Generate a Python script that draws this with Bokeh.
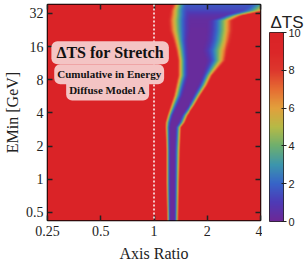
import numpy as np
from bokeh.plotting import figure
from bokeh.layouts import row
from bokeh.models import (LinearColorMapper, FixedTicker, LogAxis, Span, Label, Range1d)
from bokeh.embed import file_html
from bokeh.resources import INLINE

# ---------------- data ----------------
x_ticks = [0.25, 0.5, 1, 2, 4]
x_tick_labels = ["0.25", "0.5", "1", "2", "4"]
y_ticks = [0.5, 1, 2, 4, 8, 16, 32]
y_tick_labels = ["0.5", "1", "2", "4", "8", "16", "32"]
cbar_ticks = [0, 2, 4, 6, 8, 10]

# valley of low Delta-TS, read row by row (EMin in GeV, axis ratio positions)
emin_rows = [0.42, 0.92, 1.82, 2.95, 3.27, 3.79, 4.67, 5.75, 7.09, 8.73,
             11.9, 14.7, 18.1, 22.3, 27.5, 30.6, 33.9, 38.5]
edge_left = [1.181, 1.167, 1.167, 1.152, 1.152, 1.181, 1.228, 1.276, 1.309, 1.344,
             1.344, 1.309, 1.260, 1.197, 1.181, 1.197, 1.212, 1.260]
trough_left = [1.244, 1.244, 1.244, 1.244, 1.260, 1.293, 1.378, 1.470, 1.527, 1.587,
               1.587, 1.587, 1.587, 1.629, 1.629, 1.608, 1.547, 1.527]
trough_right = [1.293, 1.293, 1.293, 1.309, 1.361, 1.414, 1.547, 1.650, 1.759, 1.852,
                1.949, 1.852, 1.924, 1.949, 1.975, 2.456, 3.094, 3.518]
edge_right = [1.378, 1.396, 1.414, 1.433, 1.508, 1.567, 1.714, 1.852, 2.026, 2.160,
              2.586, 2.687, 2.792, 2.865, 2.865, 3.215, 4.43, 4.85]
ts_min = [0.2, 0.2, 0.2, 0.2, 0.2, 0.2, 0.2, 0.2, 0.2, 0.2,
          0.2, 0.2, 0.2, 0.2, 0.3, 0.6, 1.3, 1.8]
ts_cap = 10.0

x_lo, x_hi = 0.25, 4.0
y_lo, y_hi = 0.423, 38.6

# ---------------- build image table ----------------
nx, ny = 432, 432
lx0, lx1 = np.log2(x_lo), np.log2(x_hi)
ly0, ly1 = np.log2(y_lo), np.log2(y_hi)
lx = lx0 + (np.arange(nx) + 0.5) * (lx1 - lx0) / nx
ly = ly0 + (np.arange(ny) + 0.5) * (ly1 - ly0) / ny
le = np.log2(emin_rows)
L = np.interp(ly, le, np.log2(edge_left))[:, None]
TL = np.interp(ly, le, np.log2(trough_left))[:, None]
TR = np.interp(ly, le, np.log2(trough_right))[:, None]
R = np.interp(ly, le, np.log2(edge_right))[:, None]
M = np.interp(ly, le, ts_min)[:, None]
X = lx[None, :]
pw = 1.7
tl = np.clip((TL - X) / (TL - L), 0, None)
tr = np.clip((X - TR) / (R - TR), 0, None)
t = np.maximum(tl, tr)
ts = np.minimum(M + (ts_cap - M) * t ** pw, ts_cap)

# ---------------- palette ----------------
anchors = [(0, (110, 40, 150)), (1, (78, 58, 182)), (2, (55, 100, 200)),
           (3, (60, 150, 172)), (4, (110, 175, 110)), (5, (182, 186, 70)),
           (6, (226, 160, 60)), (7, (230, 108, 50)), (8, (221, 55, 45)),
           (9, (219, 38, 40)), (10, (218, 35, 39))]
av = np.array([a[0] for a in anchors], float)
ac = np.array([a[1] for a in anchors], float)
vals = np.linspace(0, 10, 256)
palette = ["#%02x%02x%02x" % tuple(int(round(np.interp(v, av, ac[:, k]))) for k in range(3))
           for v in vals]
mapper = LinearColorMapper(palette=palette, low=0, high=10)

# ---------------- main figure ----------------
p = figure(width=262, height=268, x_axis_type="log", y_axis_type="log",
           x_range=Range1d(x_lo, x_hi), y_range=Range1d(y_lo, y_hi),
           output_backend="svg", toolbar_location=None, frame_align=False,
           min_border_left=44, min_border_right=2, min_border_top=4, min_border_bottom=48)
p.xgrid.visible = False
p.ygrid.visible = False
p.outline_line_color = "black"
p.outline_line_width = 1.5

p.image(image=[ts], x=x_lo, y=y_lo, dw=x_hi - x_lo, dh=y_hi - y_lo, color_mapper=mapper)

p.add_layout(Span(location=1, dimension="height", line_color="white",
                  line_dash="2 2", line_width=1.5))

serif = "Liberation Serif"
for ax, ticks, labels in ((p.xaxis[0], x_ticks, x_tick_labels), (p.yaxis[0], y_ticks, y_tick_labels)):
    ax.ticker = FixedTicker(ticks=ticks, minor_ticks=[])
    ax.major_label_overrides = dict(zip(ticks, labels))
    ax.major_label_text_font = serif
    ax.major_label_text_font_size = "14px"
    ax.major_label_text_color = "#222222"
    ax.axis_label_text_font = serif
    ax.axis_label_text_font_size = "16px"
    ax.axis_label_text_font_style = "normal"
    ax.axis_label_text_color = "#222222"
    ax.major_tick_in = 5
    ax.major_tick_out = 0
    ax.minor_tick_line_color = None
    ax.major_tick_line_color = "#222222"
    ax.major_tick_line_width = 1.5
    ax.axis_line_color = None
p.xaxis[0].axis_label = "Axis Ratio"
p.yaxis[0].axis_label = "EMin [GeV]"
p.xaxis[0].major_label_standoff = 5
p.xaxis[0].axis_label_standoff = 6
p.yaxis[0].major_label_standoff = 4
p.yaxis[0].axis_label_standoff = 2

for side, ticks in (("above", x_ticks), ("right", y_ticks)):
    ax2 = LogAxis(ticker=FixedTicker(ticks=ticks, minor_ticks=[]),
                  major_label_text_color=None, major_label_text_font_size="1px",
                  major_label_standoff=0,
                  major_tick_in=5, major_tick_out=0, major_tick_line_width=1.5,
                  major_tick_line_color="#222222", minor_tick_line_color=None,
                  axis_line_color=None)
    p.add_layout(ax2, side)

box_color = "#f4c4c4"
labels_spec = [
    ("\u0394TS for Stretch", 0.565, 14.1, "16px", (5, 3)),
    ("Cumulative in Energy", 0.558, 9.0, "11px", (3, 4)),
    ("Diffuse Model A", 0.547, 6.52, "11px", (3, 5)),
]
for text, lx_, ly_, fs, pad in labels_spec:
    p.add_layout(Label(x=lx_, y=ly_, text=text, text_font=serif, text_font_style="bold",
                       text_font_size=fs, text_align="center", text_baseline="middle",
                       text_color="#111111", background_fill_color=box_color,
                       background_fill_alpha=1.0, border_radius=6, padding=pad))

# ---------------- colour-bar figure ----------------
c_lo, c_hi = cbar_ticks[0], cbar_ticks[-1]
c = figure(width=44, height=268, x_range=Range1d(0, 1), y_range=Range1d(c_lo, c_hi),
           output_backend="svg", toolbar_location=None, frame_align=False,
           x_axis_location=None, y_axis_location="right",
           title="\u0394TS", title_location="above",
           min_border_left=7, min_border_right=23, min_border_top=32, min_border_bottom=47)
c.xgrid.visible = False
c.ygrid.visible = False
c.outline_line_color = "#222222"
c.outline_line_width = 1
c.title.text_font = "Liberation Sans"
c.title.text_font_size = "17px"
c.title.text_font_style = "normal"
c.title.text_color = "#222222"
c.title.align = "left"
c.title.offset = 1
c.title.standoff = 2

grad = np.linspace(c_lo, c_hi, 256).reshape(-1, 1)
c.image(image=[grad], x=0, y=c_lo, dw=1, dh=c_hi - c_lo, color_mapper=mapper)

cy = c.yaxis[0]
cy.ticker = FixedTicker(ticks=cbar_ticks, minor_ticks=[])
cy.major_label_text_font = "Liberation Sans"
cy.major_label_text_font_size = "11px"
cy.major_label_text_color = "#222222"
cy.major_label_standoff = 2
cy.major_tick_in = 2
cy.major_tick_out = 3
cy.major_tick_line_color = "#222222"
cy.minor_tick_line_color = None
cy.axis_line_color = None

layout = row(p, c, spacing=0)
open("out.html", "w").write(file_html(layout, INLINE))
